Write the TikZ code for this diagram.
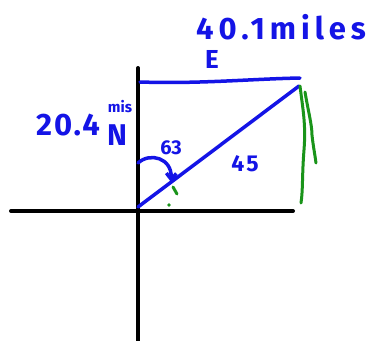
\documentclass[tikz,border=0pt]{standalone}
\usepackage{fontspec}
\setmainfont{Fira Sans}
\usetikzlibrary{arrows.meta}
\definecolor{penblue}{HTML}{1414E6}
\definecolor{pengreen}{HTML}{1A941A}
\tikzset{
  axis/.style={line width=4pt, black, line cap=round},
  blueline/.style={line width=3.5pt, penblue, line cap=round, line join=round},
  greenline/.style={line width=3pt, pengreen, line cap=round},
  handtext/.style={text=penblue, font=\bfseries, inner sep=0pt},
}
\begin{document}
\begin{tikzpicture}[x=1pt,y=-1pt]
\useasboundingbox (0,0) rectangle (376,341);
\fill[white] (0,0) rectangle (376,341);
% axes
\coordinate (vtop) at (138,68);
\coordinate (vbot) at (138,341);
\coordinate (hl) at (11,211);
\coordinate (hr) at (293,211);
\draw[axis] (vtop) -- (vbot);
\draw[axis] (hl) -- (hr);
% blue triangle lines
\coordinate (o) at (138,207);
\coordinate (tl) at (140,82);
\coordinate (tr) at (300,78);
\coordinate (dr) at (299,86);
\draw[blueline] (tl) .. controls (200,84) and (250,79) .. (tr);
\draw[blueline] (o) -- (dr);
% angle arc
\coordinate (arcs) at (138,163);
\coordinate (arce) at (171,182);
\draw[blueline, -{Straight Barb[length=6pt,width=10pt]}] (arcs) .. controls (150,152) and (172,158) .. (arce);
% green marks
\coordinate (g1a) at (300,86);
\coordinate (g1b) at (301,203);
\coordinate (g2a) at (305,92);
\coordinate (g2b) at (316,163);
\draw[greenline] (g1a) .. controls (303,110) and (306,125) .. (304,150) .. controls (302,175) and (303,190) .. (g1b);
\draw[greenline] (g2a) .. controls (308,110) and (312,125) .. (312,135) .. controls (313,145) and (315,155) .. (g2b);
\coordinate (t1) at (173,187);
\coordinate (t2) at (177,194);
\draw[greenline] (t1) -- (t2);
\fill[pengreen] (169,205) circle (1.8);
% labels
\node[handtext, font=\bfseries\fontsize{31}{31}\selectfont\addfontfeature{LetterSpace=16}] (miles) at (281,27) {40.1miles};
\node[handtext, font=\bfseries\fontsize{26}{26}\selectfont] (E) at (212,59) {E};
\node[handtext, font=\bfseries\fontsize{31}{31}\selectfont\addfontfeature{LetterSpace=6}] (d204) at (68,125) {20.4};
\node[handtext, font=\bfseries\fontsize{15}{15}\selectfont] (mis) at (120,107) {mis};
\node[handtext, font=\bfseries\fontsize{30}{30}\selectfont] (N) at (117,135) {N};
\node[handtext, font=\bfseries\fontsize{20}{20}\selectfont] (a63) at (171,148) {63};
\node[handtext, font=\bfseries\fontsize{23}{23}\selectfont\addfontfeature{LetterSpace=10}] (a45) at (245,164) {45};
\end{tikzpicture}
\end{document}
